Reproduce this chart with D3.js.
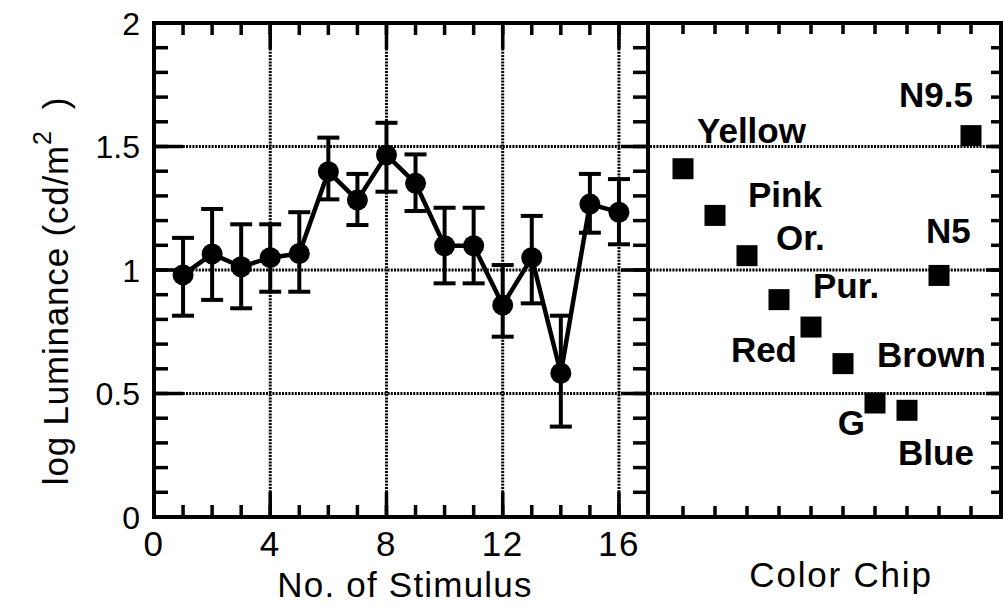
<!DOCTYPE html>
<html>
<head>
<meta charset="utf-8">
<script src="https://cdn.jsdelivr.net/npm/d3@7"></script>
<style>
  body { margin: 0; background: #fff; }
  svg { display: block; font-family: "Liberation Sans", Arial, Helvetica, sans-serif; }
</style>
</head>
<body>
<div id="container"></div>
<script>
const width = 1005;
const height = 607;

// left panel: mean log luminance per stimulus, with error bar ends
const stimulus = [1, 2, 3, 4, 5, 6, 7, 8, 9, 10, 11, 12, 13, 14, 15, 16];
const meanLum = [0.98, 1.065, 1.013, 1.05, 1.067, 1.398, 1.283, 1.466, 1.351, 1.098, 1.098, 0.858, 1.05, 0.582, 1.267, 1.234];
const upperLum = [1.13, 1.247, 1.185, 1.185, 1.234, 1.536, 1.389, 1.596, 1.468, 1.252, 1.252, 1.02, 1.219, 0.815, 1.389, 1.368];
const lowerLum = [0.815, 0.879, 0.845, 0.912, 0.912, 1.286, 1.182, 1.317, 1.239, 0.946, 0.946, 0.73, 0.865, 0.366, 1.151, 1.104];

// right panel: colour chips
const chipNames = ['Yellow', 'Pink', 'Or.', 'Pur.', 'Red', 'Brown', 'G', 'Blue', 'N5', 'N9.5'];
const chipIndex = [1, 2, 3, 4, 5, 6, 7, 8, 9, 10];
const chipLum = [1.41, 1.221, 1.058, 0.88, 0.769, 0.621, 0.4615, 0.432, 0.978, 1.544];

const xTicks = [0, 4, 8, 12, 16];
const yTicks = [0, 0.5, 1, 1.5, 2];
const yTickLabels = ['0', '0.5', '1', '1.5', '2'];

// label placement next to each chip: [dx, dy, anchor]
const chipLabelPos = [
  [14, -26, 'start'], [33, -8, 'start'], [29, -6, 'start'], [34, -2, 'start'],
  [-14, 35, 'end'], [34, 3, 'start'], [-10, 32, 'end'], [-9, 55, 'start'],
  [-13, -32, 'start'], [2, -29, 'end']
];

const pTop = 23, pBottom = 517, pLeft = 154, pMid = 648, pRight = 1001;

const y = d3.scaleLinear().domain([0, 2]).range([pBottom, pTop]);
const x = d3.scaleLinear().domain([0, 17]).range([pLeft, pMid]);
const xc = d3.scaleLinear().domain([0, 11]).range([651, 1003]);

const svg = d3.select('#container')
  .append('svg')
  .attr('width', width)
  .attr('height', height);

// dotted grid
const gridPath = d3.path();
xTicks.slice(1).forEach(d => { gridPath.moveTo(x(d), pTop); gridPath.lineTo(x(d), pBottom); });
[0.5, 1, 1.5].forEach(d => { gridPath.moveTo(pLeft, y(d)); gridPath.lineTo(pRight, y(d)); });
svg.append('path')
  .attr('d', gridPath.toString())
  .attr('fill', 'none')
  .attr('stroke', '#000')
  .attr('stroke-width', 3)
  .attr('stroke-dasharray', '2,1.2');

// error bars
const bars = svg.append('g')
  .attr('stroke', '#000')
  .attr('stroke-width', 4);

bars.selectAll('g')
  .data(stimulus)
  .join('g')
  .each(function (d, i) {
    const g = d3.select(this);
    g.append('line')
      .attr('x1', x(d)).attr('x2', x(d))
      .attr('y1', y(lowerLum[i])).attr('y2', y(upperLum[i]));
    g.append('line')
      .attr('x1', x(d) - 11).attr('x2', x(d) + 11)
      .attr('y1', y(upperLum[i])).attr('y2', y(upperLum[i]));
    g.append('line')
      .attr('x1', x(d) - 11).attr('x2', x(d) + 11)
      .attr('y1', y(lowerLum[i])).attr('y2', y(lowerLum[i]));
  });

// connecting line and markers
svg.append('path')
  .datum(stimulus)
  .attr('fill', 'none')
  .attr('stroke', '#000')
  .attr('stroke-width', 4.5)
  .attr('stroke-linejoin', 'round')
  .attr('d', d3.line().x(d => x(d)).y((d, i) => y(meanLum[i])));

svg.append('g').selectAll('circle')
  .data(stimulus)
  .join('circle')
  .attr('cx', d => x(d))
  .attr('cy', (d, i) => y(meanLum[i]))
  .attr('r', 10.5)
  .attr('fill', '#000');

// colour chips
svg.append('g').selectAll('rect')
  .data(chipIndex)
  .join('rect')
  .attr('x', d => xc(d) - 10.5)
  .attr('y', (d, i) => y(chipLum[i]) - 10.5)
  .attr('width', 21)
  .attr('height', 21)
  .attr('fill', '#000');

svg.append('g').selectAll('text')
  .data(chipIndex)
  .join('text')
  .attr('x', (d, i) => xc(d) + chipLabelPos[i][0])
  .attr('y', (d, i) => y(chipLum[i]) + chipLabelPos[i][1])
  .attr('text-anchor', (d, i) => chipLabelPos[i][2])
  .attr('font-size', 35)
  .attr('font-weight', 'bold')
  .attr('fill', '#000')
  .text((d, i) => chipNames[i]);

// tick labels
svg.append('g').selectAll('text')
  .data(yTicks)
  .join('text')
  .attr('x', pLeft - 14)
  .attr('y', d => y(d))
  .attr('dy', '0.36em')
  .attr('text-anchor', 'end')
  .attr('font-size', 32)
  .text((d, i) => yTickLabels[i]);

svg.append('g').selectAll('text')
  .data(xTicks)
  .join('text')
  .attr('x', d => x(d))
  .attr('y', 556)
  .attr('text-anchor', 'middle')
  .attr('font-size', 35)
  .attr('letter-spacing', 1.5)
  .text(d => d);

// axis titles
svg.append('text')
  .attr('x', 405).attr('y', 597)
  .attr('text-anchor', 'middle')
  .attr('font-size', 35)
  .attr('letter-spacing', 1.2)
  .text('No. of Stimulus');

svg.append('text')
  .attr('x', 841).attr('y', 587)
  .attr('text-anchor', 'middle')
  .attr('font-size', 35)
  .attr('letter-spacing', 1.8)
  .text('Color Chip');

const yTitle = svg.append('text')
  .attr('transform', 'translate(68,291) rotate(-90)')
  .attr('text-anchor', 'middle')
  .attr('font-size', 35)
  .attr('letter-spacing', 0.8);
yTitle.append('tspan').text('log Luminance (cd/m');
yTitle.append('tspan').attr('dy', -17).attr('font-size', 25).text('2');
yTitle.append('tspan').attr('dy', 17).text('\u00a0\u00a0)');

// frames
svg.append('rect')
  .attr('x', pLeft).attr('y', pTop)
  .attr('width', pMid - pLeft).attr('height', pBottom - pTop)
  .attr('fill', 'none').attr('stroke', '#000').attr('stroke-width', 4);
svg.append('rect')
  .attr('x', pMid).attr('y', pTop)
  .attr('width', pRight - pMid).attr('height', pBottom - pTop)
  .attr('fill', 'none').attr('stroke', '#000').attr('stroke-width', 4);

// ticks, all pointing inward, drawn last as small filled bars
const minorY = d3.range(0, 2.001, 0.1);
const minorX = d3.range(0, 17, 1);
const tickW = 3.5;
const tickSpecs = [];

function yTickMarks(x0, values, len) {
  values.forEach(v => tickSpecs.push({
    x: Math.min(x0, x0 + len), y: y(v) - tickW / 2, w: Math.abs(len), h: tickW
  }));
}
function xTickMarks(scale, y0, values, len) {
  values.forEach(v => tickSpecs.push({
    x: scale(v) - tickW / 2, y: Math.min(y0, y0 + len), w: tickW, h: Math.abs(len)
  }));
}

yTickMarks(pLeft, minorY, 14);
yTickMarks(pLeft, yTicks, 29);
yTickMarks(pMid, minorY, -15);
yTickMarks(pMid, yTicks, -27);
yTickMarks(pRight, minorY, -10);
yTickMarks(pRight, yTicks, -15);
xTickMarks(x, pBottom, minorX, -12);
xTickMarks(x, pBottom, xTicks, -25);
xTickMarks(x, pTop, minorX, 12);
xTickMarks(x, pTop, xTicks, 26);
xTickMarks(xc, pTop, chipIndex, 11);
xTickMarks(xc, pBottom, chipIndex, -11);

svg.append('g').selectAll('rect')
  .data(tickSpecs)
  .join('rect')
  .attr('x', d => d.x)
  .attr('y', d => d.y)
  .attr('width', d => d.w)
  .attr('height', d => d.h)
  .attr('fill', '#000');
</script>
</body>
</html>
